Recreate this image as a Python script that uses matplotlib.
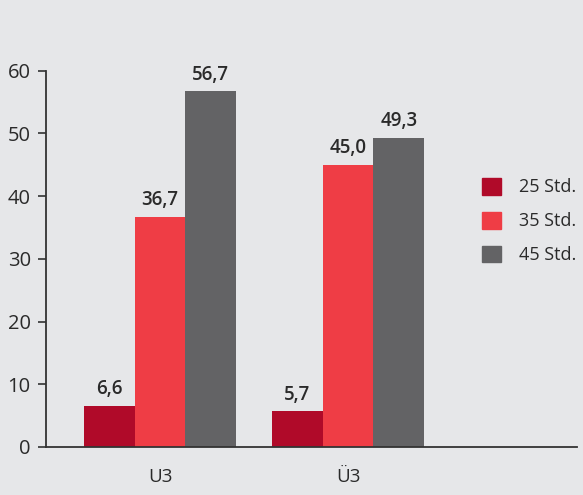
import matplotlib
matplotlib.use("Agg")
import matplotlib.pyplot as plt
from matplotlib.patches import Patch
import numpy as np

categories = ["U3", "Ü3"]
series_names = ["25 Std.", "35 Std.", "45 Std."]
values_25 = [6.6, 5.7]
values_35 = [36.7, 45.0]
values_45 = [56.7, 49.3]
yticks = [0, 10, 20, 30, 40, 50, 60]

colors = ["#b00a29", "#ef3d45", "#636365"]
bg = "#e6e7e9"
txt = "#2a2a2a"
plt.rcParams['font.family'] = ['Open Sans', 'DejaVu Sans']

fig = plt.figure(figsize=(5.83, 4.95), dpi=100, facecolor=bg)
ax = fig.add_axes([46/583, 1 - 447/495, (577-46)/583, (447-70.5)/495])
ax.set_facecolor(bg)

x = np.arange(len(categories))
w = 0.27
for i, (vals, c, name) in enumerate(zip([values_25, values_35, values_45], colors, series_names)):
    bars = ax.bar(x + (i - 1) * w, vals, width=w, color=c, label=name, zorder=2)
    for b, v in zip(bars, vals):
        ax.text(b.get_x() + b.get_width()/2, v + 1.0, f"{v:.1f}".replace(".", ","),
                ha="center", va="bottom", fontsize=13.5, fontweight="semibold", color=txt)

ax.set_xlim(-0.606, 2.218)
ax.set_ylim(0, 60)
ax.set_yticks(yticks)
ax.set_xticks(x)
ax.set_xticklabels(categories)
ax.tick_params(axis="y", length=6, width=1.2, color="#333333", labelsize=14.5, labelcolor=txt, pad=5)
ax.tick_params(axis="x", length=0, labelsize=13.5, labelcolor=txt, pad=15)
for s in ["top", "right"]:
    ax.spines[s].set_visible(False)
for s in ["left", "bottom"]:
    ax.spines[s].set_color("#333333")
    ax.spines[s].set_linewidth(1.3)
ax.spines["bottom"].set_zorder(3)

handles = [Patch(color=c) for c in colors]
leg = ax.legend(handles, series_names, loc="center left", bbox_to_anchor=(0.79, 0.6),
                frameon=False, fontsize=13, handlelength=1.05, handleheight=1.05,
                handletextpad=1.0, labelspacing=0.85, labelcolor=txt)

fig.savefig("out.png", dpi=100, facecolor=bg)
